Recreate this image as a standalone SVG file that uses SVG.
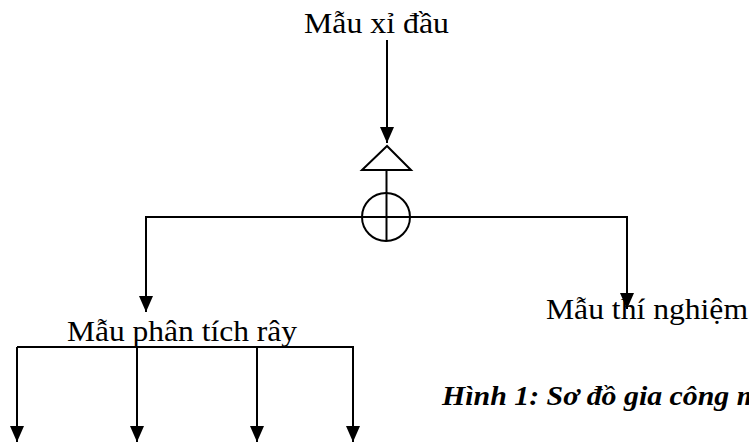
<svg xmlns="http://www.w3.org/2000/svg" width="749" height="443" viewBox="0 0 749 443">
<defs>
<style>
text{font-family:"Liberation Serif","Times New Roman",serif;fill:#000}
.lbl{font-size:29px}
.cap{font-size:28px;font-weight:bold;font-style:italic}
.ln{stroke:#000;stroke-width:2;fill:none}
</style>
<marker id="ah" markerWidth="16" markerHeight="14" refX="16" refY="7" orient="auto" markerUnits="userSpaceOnUse" viewBox="0 0 16 14">
<path d="M0,0 L16,7 L0,14 Z" fill="#000"/>
</marker>
</defs>
<rect width="749" height="443" fill="#fff"/>
<g id="mau-xi-dau"><text class="lbl" x="304" y="33" textLength="145" lengthAdjust="spacingAndGlyphs">Mẫu xỉ đầu</text></g>
<g id="triangle"><polygon points="387,146 362,170 411,170" fill="#fff" stroke="#000" stroke-width="2"/></g>
<g id="circle"><circle cx="386" cy="217" r="24" fill="#fff" stroke="#000" stroke-width="2"/></g>
<g id="mau-phan-tich-ray"><text class="lbl" x="67" y="341" textLength="230" lengthAdjust="spacingAndGlyphs">Mẫu phân tích rây</text></g>
<g id="mau-thi-nghiem"><text class="lbl" x="546" y="319" textLength="202" lengthAdjust="spacingAndGlyphs">Mẫu thí nghiệm</text></g>
<g id="caption"><text class="cap" x="442" y="405" textLength="318" lengthAdjust="spacingAndGlyphs">Hình 1: Sơ đồ gia công m</text></g>
<g id="connectors">
<line class="ln" x1="387" y1="40" x2="387" y2="143" marker-end="url(#ah)"/>
<line class="ln" x1="386.5" y1="170" x2="386.5" y2="241"/>
<line class="ln" x1="362" y1="217" x2="410" y2="217"/>
<polyline class="ln" points="362,217 146,217 146,312" marker-end="url(#ah)"/>
<polyline class="ln" points="410,217 627,217 627,309" marker-end="url(#ah)"/>
<line class="ln" x1="17" y1="347" x2="354" y2="347"/>
<line class="ln" x1="17" y1="347" x2="17" y2="442" marker-end="url(#ah)"/>
<line class="ln" x1="137" y1="347" x2="137" y2="442" marker-end="url(#ah)"/>
<line class="ln" x1="257" y1="347" x2="257" y2="442" marker-end="url(#ah)"/>
<line class="ln" x1="353" y1="347" x2="353" y2="442" marker-end="url(#ah)"/>
</g>
</svg>
